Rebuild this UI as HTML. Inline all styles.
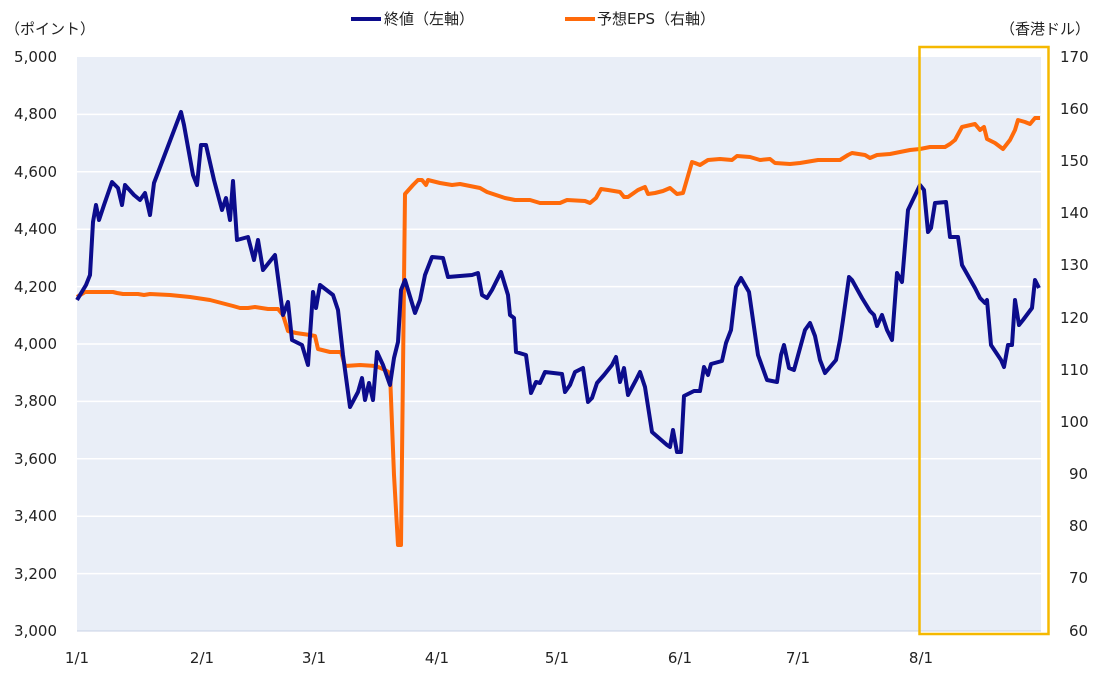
<!DOCTYPE html><html><head><meta charset="utf-8"><style>body{margin:0;background:#fff}svg{display:block}text{font-family:"DejaVu Sans","Noto Sans CJK JP",sans-serif;font-size:15px;fill:#222}</style></head><body>
<svg width="1106" height="684" xmlns="http://www.w3.org/2000/svg">
<rect x="77" y="57" width="964" height="574" fill="#e9eef7"/>
<g stroke="#fff" stroke-width="1.5">
<line x1="77" x2="1041" y1="114.4" y2="114.4"/><line x1="77" x2="1041" y1="171.8" y2="171.8"/><line x1="77" x2="1041" y1="229.2" y2="229.2"/><line x1="77" x2="1041" y1="286.6" y2="286.6"/><line x1="77" x2="1041" y1="344" y2="344"/><line x1="77" x2="1041" y1="401.4" y2="401.4"/><line x1="77" x2="1041" y1="458.8" y2="458.8"/><line x1="77" x2="1041" y1="516.2" y2="516.2"/><line x1="77" x2="1041" y1="573.6" y2="573.6"/>
</g>
<line x1="77" x2="1041" y1="631" y2="631" stroke="#c8d2e4"/>
<g text-anchor="end">
<text x="57" y="62">5,000</text><text x="57" y="119">4,800</text><text x="57" y="177">4,600</text><text x="57" y="234">4,400</text><text x="57" y="292">4,200</text><text x="57" y="349">4,000</text><text x="57" y="406">3,800</text><text x="57" y="464">3,600</text><text x="57" y="521">3,400</text><text x="57" y="579">3,200</text><text x="57" y="636">3,000</text>
</g>
<g>
<text x="1060" y="62">170</text><text x="1060" y="114">160</text><text x="1060" y="166">150</text><text x="1060" y="218">140</text><text x="1060" y="270">130</text><text x="1060" y="323">120</text><text x="1060" y="375">110</text><text x="1060" y="427">100</text><text x="1069" y="479">90</text><text x="1069" y="531">80</text><text x="1069" y="583">70</text><text x="1069" y="636">60</text>
</g>
<g text-anchor="middle">
<text x="77" y="663">1/1</text><text x="202" y="663">2/1</text><text x="314" y="663">3/1</text><text x="437" y="663">4/1</text><text x="557" y="663">5/1</text><text x="680" y="663">6/1</text><text x="798" y="663">7/1</text><text x="921" y="663">8/1</text>
</g>
<text x="5" y="34">（ポイント）</text>
<text x="1000" y="34">（香港ドル）</text>
<line x1="351" x2="381" y1="19" y2="19" stroke="#0c0c8c" stroke-width="4"/>
<text x="384" y="24">終値（左軸）</text>
<line x1="565" x2="595" y1="19" y2="19" stroke="#ff6a0a" stroke-width="4"/>
<text x="597" y="24">予想EPS（右軸）</text>
<polyline fill="none" stroke="#ff6a0a" stroke-width="4" stroke-linejoin="round" points="77,297 85,292 95,292 113,292 117,293 123,294 138,294 144,295 150,294 170,295 190,297 210,300 233,306 240,308 248,308 255,307 268,309 278,309 283,315 288,331 296,333 310,335 315,336 318,349 330,352 341,352 345,366 360,365 376,366 385,370 390,373 394,475 398,545 401,545 405,194 413,185 418,180 422,180 426,185 428,180 440,183 452,185 460,184 470,186 480,188 487,192 505,198 515,200 530,200 540,203 560,203 567,200 585,201 590,203 596,198 601,189 608,190 620,192 624,197 628,197 638,190 645,187 648,194 655,193 663,191 670,188 677,194 683,193 692,162 695,163 700,165 708,160 720,159 732,160 737,156 750,157 760,160 770,159 775,163 790,164 800,163 818,160 840,160 848,155 852,153 865,155 870,158 877,155 890,154 900,152 910,150 920,149 930,147 945,147 950,144 955,140 962,127 975,124 980,130 984,127 987,139 995,143 1003,149 1010,140 1015,130 1018,120 1025,122 1030,124 1035,118 1040,118"/>
<polyline fill="none" stroke="#0c0c8c" stroke-width="4" stroke-linejoin="round" points="77,300 86,285 90,275 93,222 96,205 99,220 104,205 112,182 118,188 122,205 125,185 134,195 140,200 145,193 150,215 154,183 181,112 184,125 193,175 197,185 201,145 206,145 214,180 222,210 226,198 230,220 233,181 237,240 248,237 254,260 258,240 263,270 275,255 283,315 288,302 292,340 302,345 308,365 313,292 316,308 320,285 333,295 338,310 343,355 350,407 358,392 362,378 365,400 369,383 373,400 377,352 383,365 390,385 394,358 398,342 401,290 405,280 415,313 420,300 425,275 432,257 443,258 448,277 472,275 478,273 482,295 487,298 492,290 501,272 508,295 510,315 514,318 516,352 526,355 531,393 536,382 540,383 545,372 562,374 565,392 570,385 575,372 583,368 588,402 592,398 597,383 604,375 612,365 616,357 620,382 624,368 628,395 636,380 640,372 645,387 652,432 667,445 670,447 673,430 677,452 681,452 684,396 694,391 700,391 704,367 708,375 711,364 722,361 726,343 731,330 736,287 741,278 749,292 758,355 767,380 777,382 781,355 784,345 789,368 794,370 805,330 810,323 815,336 820,360 825,373 836,360 840,340 843,320 849,277 852,280 862,298 870,311 874,315 877,326 882,315 887,330 892,340 897,273 902,282 908,210 920,185 924,190 928,232 931,228 935,203 946,202 950,237 958,237 962,265 975,288 980,298 985,303 987,300 991,345 1001,360 1004,367 1008,345 1012,345 1015,300 1019,325 1023,320 1032,308 1035,280 1039,288"/>
<rect x="919.5" y="47" width="129" height="587" fill="none" stroke="#f5b800" stroke-width="2.5"/>
</svg></body></html>
